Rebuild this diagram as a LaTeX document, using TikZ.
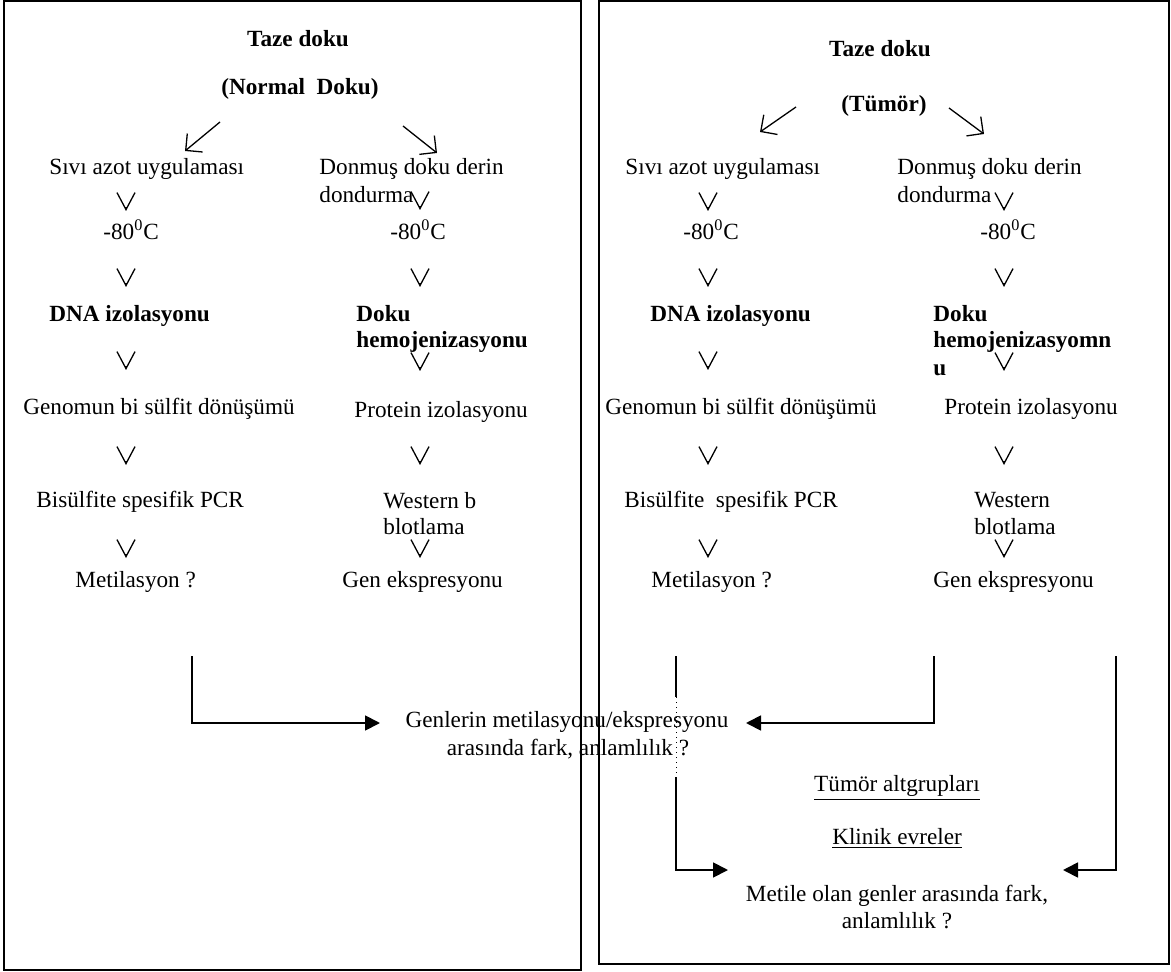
\documentclass[tikz,border=0pt]{standalone}
\usepackage{fontspec}
\setmainfont{Liberation Serif}
\usetikzlibrary{arrows.meta}
\newcommand\fs{\fontsize{11.6}{14}\selectfont}
\tikzset{
  t/.style={inner sep=0pt, anchor=mid west, font=\fs},
  tb/.style={inner sep=0pt, anchor=mid west, font=\fs\bfseries},
  tc/.style={inner sep=0pt, anchor=mid, font=\fs},
  tcb/.style={inner sep=0pt, anchor=mid, font=\fs\bfseries},
  vv/.style={line width=0.65pt, -{Straight Barb[length=8.5pt,width=9pt,line width=0.65pt]}},
  diag/.style={line width=0.65pt, -{Straight Barb[length=6pt,width=12pt,line width=0.65pt]}},
  conn/.style={line width=0.9pt, -{Triangle[length=7.5pt,width=7.5pt]}},
  boxline/.style={line width=1.1pt},
}
\begin{document}
\begin{tikzpicture}[x=0.5pt,y=-0.5pt]
\useasboundingbox (0,0) rectangle (1171,972);
% frames
\draw[boxline, line width=1.3pt] (4,1) rectangle (581,970);
\draw[boxline] (599,1) rectangle (1169,964);

% ---------- left panel ----------
\node[tcb] (L0) at (298,42) {Taze doku};
\node[tcb] (L1) at (300,90) {(Normal~~Doku)};
\coordinate (LdA) at (220,122); \coordinate (LdB) at (185,151);
\coordinate (LdC) at (403,126); \coordinate (LdD) at (437,153);
\draw[diag] (LdA) -- (LdB);
\draw[diag] (LdC) -- (LdD);
\node[t] (La1) at (49,170) {Sıvı azot uygulaması};
\node[t] (Lb1) at (319,170) {Donmuş doku derin};
\node[t] (Lb1b) at (319,198) {dondurma};
\node[t] (La2) at (103,235) {-80\textsuperscript{0}C};
\node[t] (Lb2) at (390,235) {-80\textsuperscript{0}C};
\node[tb] (La3) at (49,317) {DNA izolasyonu};
\node[tb] (Lb3) at (356,317) {Doku};
\node[tb] (Lb3b) at (356,343) {hemojenizasyonu};
\node[t] (La4) at (23,410) {Genomun bi sülfit dönüşümü};
\node[t] (Lb4) at (354,413) {Protein izolasyonu};
\node[t] (La5) at (36,503) {Bisülfite spesifik PCR};
\node[t] (Lb5) at (383,504) {Western b};
\node[t] (Lb5b) at (383,530) {blotlama};
\node[t] (La6) at (75,583) {Metilasyon ?};
\node[t] (Lb6) at (342,583) {Gen ekspresyonu};
% small down arrows, left panel
\foreach \x/\y in {126/211, 420/210, 126/287, 420/287, 126/370, 420/371, 126/465, 420/465, 126/558, 420/558}
  \draw[vv] (\x,\y-4) -- (\x,\y);

% ---------- right panel ----------
\node[tcb] (R0) at (880,52) {Taze doku};
\node[tcb] (R1) at (884,107) {(Tümör)};
\coordinate (RdA) at (796,107); \coordinate (RdB) at (760,132);
\coordinate (RdC) at (949,108); \coordinate (RdD) at (984,134);
\draw[diag] (RdA) -- (RdB);
\draw[diag] (RdC) -- (RdD);
\node[t] (Ra1) at (625,170) {Sıvı azot uygulaması};
\node[t] (Rb1) at (897,170) {Donmuş doku derin};
\node[t] (Rb1b) at (897,198) {dondurma};
\node[t] (Ra2) at (683,235) {-80\textsuperscript{0}C};
\node[t] (Rb2) at (980,235) {-80\textsuperscript{0}C};
\node[tb] (Ra3) at (650,317) {DNA izolasyonu};
\node[tb] (Rb3) at (933,317) {Doku};
\node[tb] (Rb3b) at (933,343) {hemojenizasyomn};
\node[tb] (Rb3c) at (933,371) {u};
\node[t] (Ra4) at (605,410) {Genomun bi sülfit dönüşümü};
\node[t] (Rb4) at (944,410) {Protein izolasyonu};
\node[t] (Ra5) at (624,503) {Bisülfite~~spesifik PCR};
\node[t] (Rb5) at (974,503) {Western};
\node[t] (Rb5b) at (974,530) {blotlama};
\node[t] (Ra6) at (651,583) {Metilasyon ?};
\node[t] (Rb6) at (933,583) {Gen ekspresyonu};
\foreach \x/\y in {708/211, 1004/211, 708/287, 1004/287, 708/370, 1004/371, 708/465, 1004/465, 708/558, 1004/558}
  \draw[vv] (\x,\y-4) -- (\x,\y);

% ---------- comparison ----------
\node[tc] (G1) at (567,723) {Genlerin metilasyonu/ekspresyonu};
\node[tc] (G2) at (568,751) {arasında fark, anlamlılık ?};
\node[tc] (T1) at (897,787) {\underline{Tümör altgrupları}};
\node[tc] (T2) at (897,840) {\underline{Klinik evreler}};
\node[tc] (M1) at (897,897) {Metile olan genler arasında fark,};
\node[tc] (M2) at (897,924) {anlamlılık ?};

% connectors
\coordinate (c1) at (192,656);  \coordinate (a1) at (380,723);
\coordinate (c2) at (934,656);  \coordinate (a2) at (746,723);
\coordinate (c3) at (676,656);  \coordinate (c3a) at (676,697);
\coordinate (c3b) at (676,777); \coordinate (a3) at (728,870);
\coordinate (c4) at (1116,656); \coordinate (a4) at (1063,870);
\draw[conn] (c1) |- (a1);
\draw[conn] (c2) |- (a2);
\draw[line width=0.9pt] (c3) -- (c3a);
\draw[line width=0.5pt, dotted] (c3a) -- (c3b);
\draw[conn] (c3b) |- (a3);
\draw[conn] (c4) |- (a4);
\end{tikzpicture}
\end{document}
